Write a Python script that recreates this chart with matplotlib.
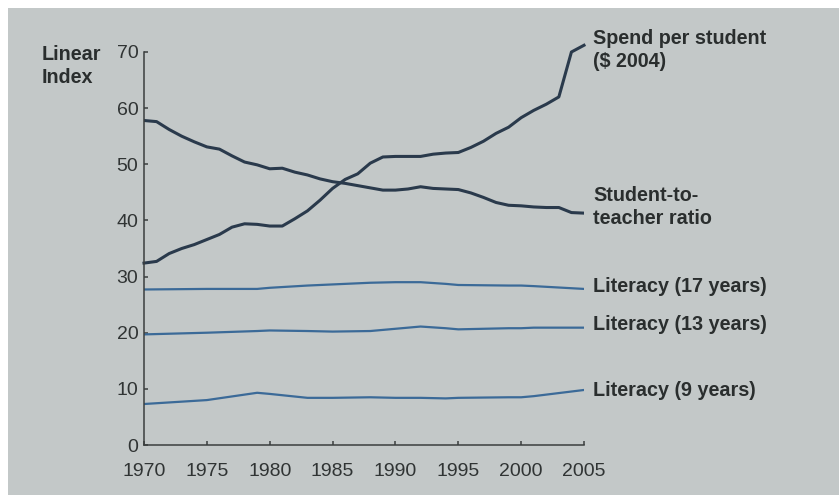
#%% imports
import numpy as np
import matplotlib
matplotlib.use('Agg')
import matplotlib.pyplot as plt
from matplotlib.patches import Rectangle

#%% data
years = list(range(1970, 2006))

# spend per student ($ 2004), linear index
spend = [32.4, 32.7, 34.1, 35.0, 35.7, 36.6, 37.5, 38.8, 39.4, 39.3,
         39.0, 39.0, 40.3, 41.7, 43.6, 45.7, 47.3, 48.3, 50.2, 51.3,
         51.4, 51.4, 51.4, 51.8, 52.0, 52.1, 53.0, 54.1, 55.5, 56.6,
         58.3, 59.6, 60.7, 62.0, 70.0, 71.2]

# student-to-teacher ratio
ratio = [57.8, 57.6, 56.2, 55.0, 54.0, 53.1, 52.7, 51.5, 50.4, 49.9,
         49.2, 49.3, 48.6, 48.1, 47.4, 46.9, 46.6, 46.2, 45.8, 45.4,
         45.4, 45.6, 46.0, 45.7, 45.6, 45.5, 44.9, 44.1, 43.2, 42.7,
         42.6, 42.4, 42.3, 42.3, 41.4, 41.3]

# literacy scores (fewer points, lines are smooth)
lit_years = [1970, 1975, 1979, 1980, 1983, 1985, 1988, 1990, 1992, 1994, 1995, 1999, 2000, 2001, 2005]
lit17 = [27.7, 27.8, 27.8, 28.0, 28.4, 28.6, 28.9, 29.0, 29.0, 28.7, 28.5, 28.4, 28.4, 28.3, 27.8]
lit13 = [19.7, 20.0, 20.3, 20.4, 20.3, 20.2, 20.3, 20.7, 21.1, 20.8, 20.6, 20.8, 20.8, 20.9, 20.9]
lit9 = [7.3, 8.0, 9.3, 9.1, 8.4, 8.4, 8.5, 8.4, 8.4, 8.3, 8.4, 8.5, 8.5, 8.7, 9.8]

y_ticks = [0, 10, 20, 30, 40, 50, 60, 70]
x_ticks = [1970, 1975, 1980, 1985, 1990, 1995, 2000, 2005]

#%% style
bg = '#c3c8c8'
dark = '#2a3a4c'
blue = '#3b6a98'
txt = '#2a2e2e'
plt.rcParams['font.family'] = ['Liberation Sans', 'DejaVu Sans']

#%% plot
fig = plt.figure(figsize=(8.39, 4.95), dpi=100, facecolor='white')
# grey paper, thin white edge on top and left
fig.patches.append(Rectangle((8 / 839, 0), 1, 1 - 8 / 495, transform=fig.transFigure,
                             facecolor=bg, edgecolor='none', zorder=-10))

ax = fig.add_axes([144 / 839, 50 / 495, 440 / 839, 393 / 495])
ax.set_facecolor('none')
ax.set_zorder(1)

ax.plot(years, spend, color=dark, lw=2.2, solid_joinstyle='round', clip_on=False)
ax.plot(years, ratio, color=dark, lw=2.2, solid_joinstyle='round')
ax.plot(lit_years, lit17, color=blue, lw=1.6)
ax.plot(lit_years, lit13, color=blue, lw=1.6)
ax.plot(lit_years, lit9, color=blue, lw=1.6)

ax.set_xlim(1970, 2005)
ax.set_ylim(0, 70)
ax.set_xticks(x_ticks)
ax.set_yticks(y_ticks)

for s in ['top', 'right']:
    ax.spines[s].set_visible(False)
for s in ['left', 'bottom']:
    ax.spines[s].set_color('#3a3e3e')
    ax.spines[s].set_linewidth(1.1)

ax.tick_params(axis='both', direction='in', length=3, width=1.1, color='#3a3e3e',
               labelsize=14, labelcolor='#303434')
ax.tick_params(axis='x', pad=13)
ax.tick_params(axis='y', pad=4)

# axis title in the top-left corner
fig.text(42 / 839, 1 - 66 / 495, 'Linear\nIndex', fontsize=14.2, fontweight='bold',
         color=txt, ha='left', va='center', linespacing=1.3)

# direct labels at the right end of each line
lx = 593 / 839
labels = [
    ('Spend per student\n($ 2004)', 50),
    ('Student-to-\nteacher ratio', 207),
    ('Literacy (17 years)', 287),
    ('Literacy (13 years)', 325),
    ('Literacy (9 years)', 390),
]
for label, ypix in labels:
    fig.text(lx, 1 - ypix / 495, label, fontsize=14.2, fontweight='bold',
             color=txt, ha='left', va='center', linespacing=1.3)

fig.savefig('out.png', dpi=100, facecolor=fig.get_facecolor())
